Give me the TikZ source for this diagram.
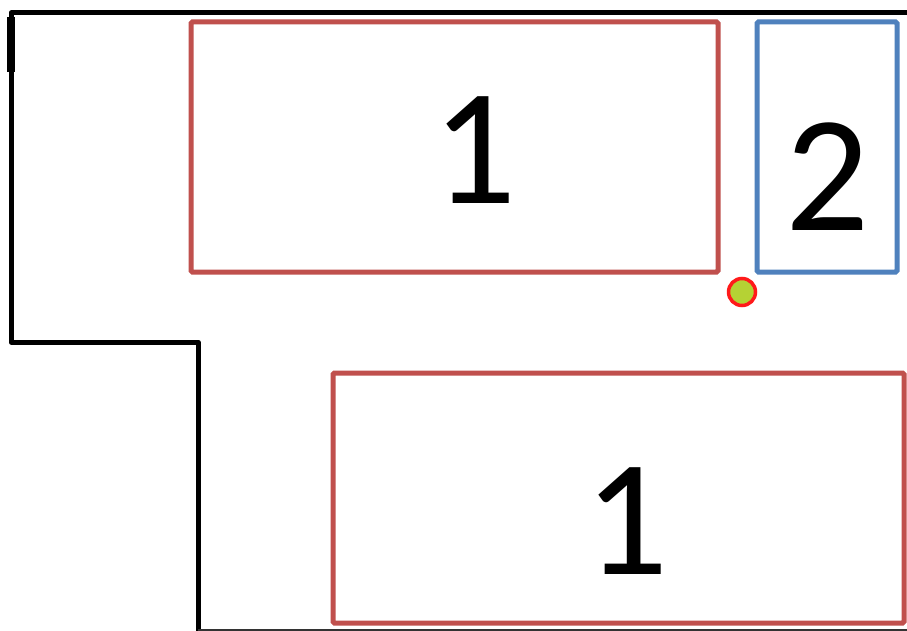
\documentclass[tikz,border=0pt]{standalone}
\usepackage{fontspec}
\setmainfont{Carlito}
\definecolor{boxred}{HTML}{C0504D}
\definecolor{boxblue}{HTML}{4F81BD}
\definecolor{dotgreen}{HTML}{B5D234}
\definecolor{dotred}{HTML}{FF1A1A}
\begin{document}
\begin{tikzpicture}[x=1pt,y=-1pt,
  wall/.style={draw=black,line width=5pt,line join=round,line cap=round},
  zone/.style={line width=5pt,rounded corners=1.5pt},
  num/.style={inner sep=0pt,anchor=base,font=\fontsize{166}{166}\selectfont}]
\useasboundingbox (0,0) rectangle (907,631);
\fill[white] (0,0) rectangle (907,631);
% walls
\coordinate (w1) at (198,631);
\coordinate (w2) at (198,342);
\coordinate (w3) at (11,342);
\coordinate (w4) at (11,13);
\coordinate (w5) at (907,13);
\draw[wall] (w1) -- (w2) -- (w3) -- (w4) -- (w5);
\draw[black,line width=8pt] (11,17) -- (11,72);
\coordinate (b1) at (198,630);
\coordinate (b2) at (907,630);
\draw[black!80,line width=1.5pt] (b1) -- (b2);
% zones
\draw[zone,draw=boxred] (191,22) rectangle (718,272);
\draw[zone,draw=boxblue] (757,22) rectangle (897,272);
\draw[zone,draw=boxred] (333,373) rectangle (904,623);
% labels
\node[num] (n1) at (475,204) {1};
\node[num] (n2) at (828,230) {2};
\node[num] (n3) at (627,574) {1};
% dot
\node[circle,draw=dotred,fill=dotgreen,line width=3.5pt,minimum size=27pt,inner sep=0pt] (dot) at (742,292) {};
\end{tikzpicture}
\end{document}
